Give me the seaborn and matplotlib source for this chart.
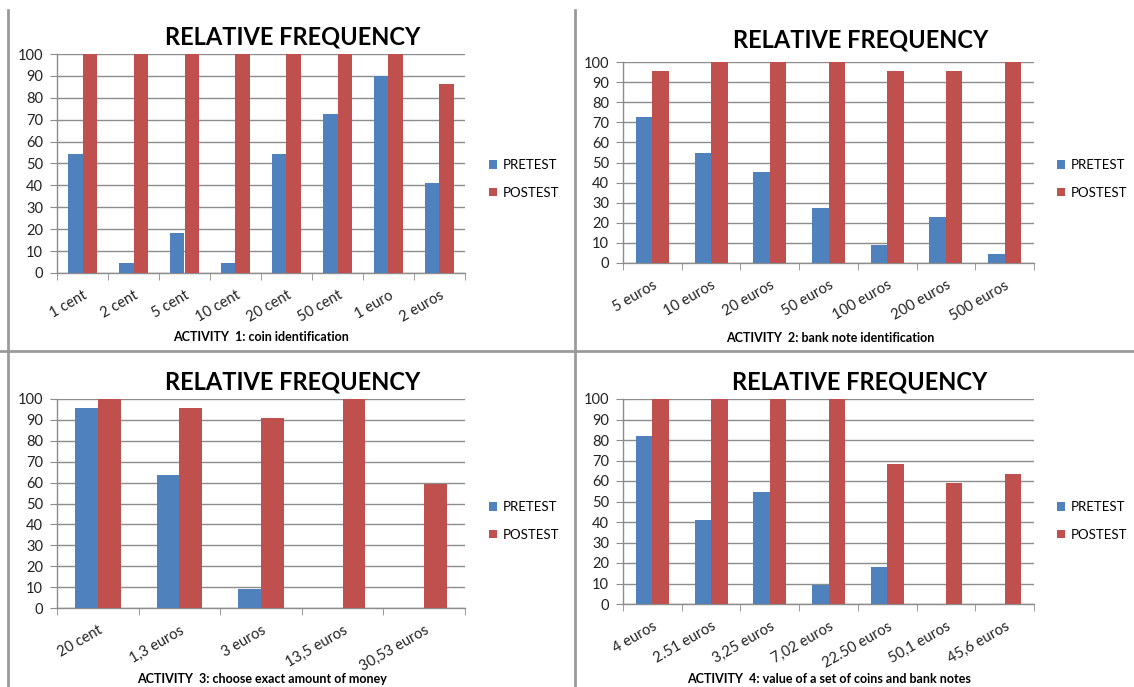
import numpy as np
import pandas as pd
import matplotlib
matplotlib.use("Agg")
import matplotlib.pyplot as plt
import seaborn as sns
from matplotlib.patches import Patch
from matplotlib.lines import Line2D

# activity 1: coins
coins = ['1 cent', '2 cent', '5 cent', '10 cent', '20 cent', '50 cent', '1 euro', '2 euros']
coins_pre = [54.5, 4.5, 18.2, 4.5, 54.5, 72.7, 90.0, 40.9]
coins_post = [100, 100, 100, 100, 100, 100, 100, 86.4]

# activity 2: bank notes
notes = ['5 euros', '10 euros', '20 euros', '50 euros', '100 euros', '200 euros', '500 euros']
notes_pre = [72.7, 54.5, 45.5, 27.3, 9.1, 22.7, 4.5]
notes_post = [95.5, 100, 100, 100, 95.5, 95.5, 100]

# activity 3: exact amount
amounts = ['20 cent', '1,3 euros', '3 euros', '13,5 euros', '30,53 euros']
amounts_pre = [95.5, 63.6, 9.1, 0, 0]
amounts_post = [100, 95.5, 90.9, 100, 59.1]

# activity 4: value of a set
sets = ['4 euros', '2.51 euros', '3,25 euros', '7,02 euros', '22.50 euros', '50,1 euros', '45,6 euros']
sets_pre = [81.8, 40.9, 54.5, 9.1, 18.2, 0, 0]
sets_post = [100, 100, 100, 100, 68.2, 59.1, 63.6]

series_names = ['PRETEST', 'POSTEST']
BLUE = '#4F81BD'
RED = '#C0504D'
GRAY = '#8c8c8c'

W, H = 1134, 687
plt.rcParams['font.family'] = ['Lato', 'DejaVu Sans']

fig = plt.figure(figsize=(W / 100, H / 100), dpi=100)
fig.patch.set_facecolor('white')


def px_rect(x0, y0, x1, y1):
    return [x0 / W, 1 - y1 / H, (x1 - x0) / W, (y1 - y0) / H]


def fx(x):
    return x / W


def fy(y):
    return 1 - y / H


def panel(rect, cats, pre, post, title_xy, legend_xy, xlabel, xlabel_xy):
    ax = fig.add_axes(px_rect(*rect))
    df = pd.DataFrame({
        'item': cats * 2,
        'value': pre + post,
        'test': [series_names[0]] * len(cats) + [series_names[1]] * len(cats),
    })
    sns.barplot(data=df, x='item', y='value', hue='test', order=cats,
                palette=[BLUE, RED], width=0.56, saturation=1,
                legend=False, ax=ax, zorder=3)
    n = len(cats)
    ax.set_xlim(-0.5, n - 0.5)
    ax.set_ylim(0, 100)
    ax.set_yticks(np.arange(0, 101, 10))
    ax.yaxis.grid(True, color=GRAY, lw=1)
    ax.set_axisbelow(True)
    for s in ['top', 'right']:
        ax.spines[s].set_visible(False)
    for s in ['left', 'bottom']:
        ax.spines[s].set_color(GRAY)
        ax.spines[s].set_linewidth(1)
    ax.set_xlabel('')
    ax.set_ylabel('')
    ax.set_xticks(range(n))
    ax.set_xticklabels(cats, rotation=30, ha='right', rotation_mode='anchor')
    ax.set_xticks(np.arange(-0.5, n, 1), minor=True)
    ax.tick_params(axis='x', which='major', length=0, pad=11, labelsize=10.5, colors='#222222')
    ax.tick_params(axis='x', which='minor', length=5, color=GRAY, direction='out')
    ax.tick_params(axis='y', length=5, color=GRAY, labelsize=10.5, labelcolor='#222222', pad=5)

    fig.text(fx(title_xy[0]), fy(title_xy[1]), 'RELATIVE FREQUENCY', ha='center', va='center',
             fontsize=17, fontweight='bold', color='black')
    fig.text(fx(xlabel_xy[0]), fy(xlabel_xy[1]), xlabel, ha='center', va='center',
             fontsize=9, fontweight='bold', color='black')
    handles = [Patch(facecolor=BLUE), Patch(facecolor=RED)]
    fig.legend(handles, series_names, loc='center left',
               bbox_to_anchor=(fx(legend_xy[0]), fy(legend_xy[1])),
               frameon=False, fontsize=9.5, handlelength=0.6, handleheight=0.6,
               handletextpad=0.45, labelspacing=1.2, borderaxespad=0, borderpad=0)
    return ax


panel((57, 54, 465, 273), coins, coins_pre, coins_post,
      (293, 37), (489, 179), 'ACTIVITY  1: coin identification', (261, 337))
panel((623, 62, 1034, 263), notes, notes_pre, notes_post,
      (861, 40), (1057, 179), 'ACTIVITY  2: bank note identification', (830, 338))
panel((57, 399, 465, 608), amounts, amounts_pre, amounts_post,
      (293, 382), (489, 521), 'ACTIVITY  3: choose exact amount of money', (262, 679))
panel((623, 399, 1034, 604), sets, sets_pre, sets_post,
      (860, 382), (1057, 521), 'ACTIVITY  4: value of a set of coins and bank notes', (829, 679))

# panel dividers
line_kw = dict(color='#9a9a9a', lw=2, transform=fig.transFigure)
fig.add_artist(Line2D([fx(575), fx(575)], [fy(10), fy(687)], **line_kw))
fig.add_artist(Line2D([fx(0), fx(1134)], [fy(351), fy(351)], **line_kw))
fig.add_artist(Line2D([fx(8), fx(8)], [fy(10), fy(687)], **line_kw))

fig.savefig('out.png', dpi=100)
